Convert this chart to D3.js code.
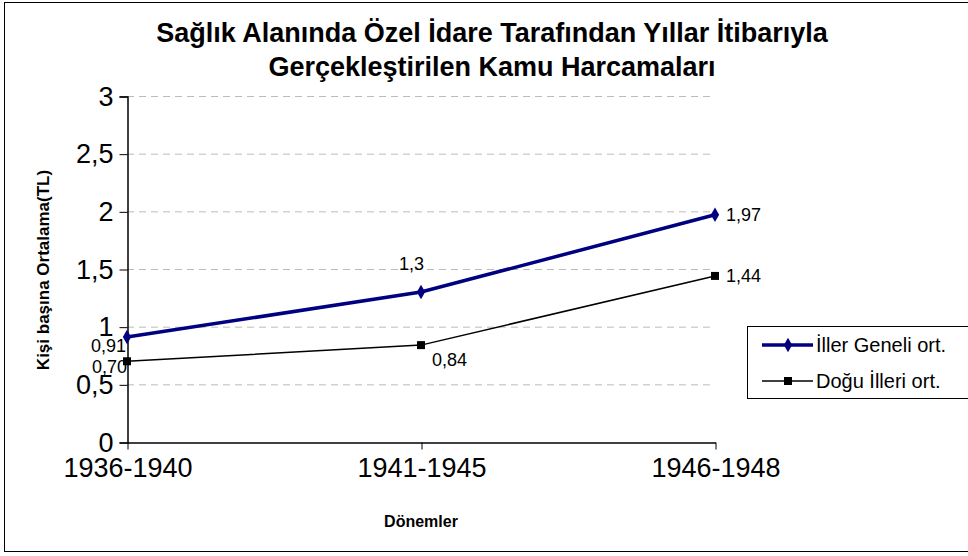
<!DOCTYPE html>
<html>
<head>
<meta charset="utf-8">
<script src="https://cdn.jsdelivr.net/npm/d3@7"></script>
<style>
  body { margin: 0; background: #fff; }
  svg { font-family: "Liberation Sans", Arial, sans-serif; }
</style>
</head>
<body>
<svg width="968" height="556"></svg>
<script>
// chart data
let periods = ['1936-1940', '1941-1945', '1946-1948'];
let illerGeneli = [0.91, 1.3, 1.97];
let doguIlleri = [0.70, 0.84, 1.44];
let illerLabels = ['0,91', '1,3', '1,97'];
let doguLabels = ['0,70', '0,84', '1,44'];
let yTicks = [0, 0.5, 1, 1.5, 2, 2.5, 3];
let seriesNames = ['İller Geneli ort.', 'Doğu İlleri ort.'];

let svg = d3.select('svg');
let fontFam = '"Liberation Sans", Arial, sans-serif';

// outer frame (runs off the right edge, as in the original)
svg.append('rect')
    .attr('x', 4.5).attr('y', 2.5)
    .attr('width', 980).attr('height', 549)
    .attr('fill', 'none').attr('stroke', '#000').attr('stroke-width', 1);

// title
let title = svg.append('text')
    .attr('text-anchor', 'middle')
    .attr('font-weight', 'bold')
    .attr('font-size', 27);
title.append('tspan').attr('x', 492).attr('y', 42).text('Sağlık Alanında Özel İdare Tarafından Yıllar İtibarıyla');
title.append('tspan').attr('x', 492).attr('y', 76).text('Gerçekleştirilen Kamu Harcamaları');

let x = d3.scalePoint().domain(periods).range([127, 715]);
let y = d3.scaleLinear().domain([0, 3]).range([442, 96]);

// gridlines
svg.append('g').selectAll('line')
    .data(yTicks.filter(d => d > 0))
    .join('line')
    .attr('x1', 127).attr('x2', 715)
    .attr('y1', d => y(d) + 0.5).attr('y2', d => y(d) + 0.5)
    .attr('stroke', '#bbb')
    .attr('stroke-dasharray', '7,5');

// y axis
let yAxis = svg.append('g')
    .attr('transform', 'translate(127.5,0.5)')
    .call(d3.axisLeft(y).tickValues(yTicks).tickSize(8).tickPadding(6)
        .tickFormat(d => String(d).replace('.', ',')));
yAxis.select('.domain').attr('stroke', '#000').attr('stroke-width', 1.5);
yAxis.selectAll('text').attr('font-size', 27).attr('font-family', fontFam).attr('fill', '#000');

// x axis
let xAxis = svg.append('g')
    .attr('transform', 'translate(0.5,442.5)')
    .call(d3.axisBottom(x).tickSize(7).tickPadding(8).tickSizeOuter(0));
xAxis.select('.domain').attr('stroke', '#000').attr('stroke-width', 1.5);
xAxis.selectAll('text').attr('font-size', 27).attr('font-family', fontFam).attr('fill', '#000');

// axis titles
svg.append('text')
    .attr('x', 421).attr('y', 527)
    .attr('text-anchor', 'middle')
    .attr('font-weight', 'bold').attr('font-size', 16)
    .text('Dönemler');
svg.append('text')
    .attr('transform', 'translate(49,270) rotate(-90)')
    .attr('text-anchor', 'middle')
    .attr('font-weight', 'bold').attr('font-size', 17)
    .text('Kişi başına Ortalama(TL)');

let line = d3.line().x((d, i) => x(periods[i])).y(d => y(d));

// Doğu illeri series
svg.append('path').datum(doguIlleri)
    .attr('d', line).attr('fill', 'none')
    .attr('stroke', '#000').attr('stroke-width', 1.5);
svg.append('g').selectAll('rect')
    .data(doguIlleri).join('rect')
    .attr('x', (d, i) => x(periods[i]) - 4).attr('y', d => y(d) - 4)
    .attr('width', 8).attr('height', 8).attr('fill', '#000');

// İller geneli series
svg.append('path').datum(illerGeneli)
    .attr('d', line).attr('fill', 'none')
    .attr('stroke', '#000080').attr('stroke-width', 3.5);
let diamond = d3.symbol().type(d3.symbolDiamond).size(60);
svg.append('g').selectAll('path')
    .data(illerGeneli).join('path')
    .attr('d', diamond)
    .attr('transform', (d, i) => `translate(${x(periods[i])},${y(d)})`)
    .attr('fill', '#000080');

// data labels
let labelFont = 18;
let illerOffsets = [[-36, 15], [-22, -22], [11, 6]];
let doguOffsets = [[-35, 12], [11, 21], [11, 6]];
svg.append('g').selectAll('text')
    .data(illerGeneli).join('text')
    .attr('x', (d, i) => x(periods[i]) + illerOffsets[i][0])
    .attr('y', (d, i) => y(d) + illerOffsets[i][1])
    .attr('font-size', labelFont)
    .text((d, i) => illerLabels[i]);
svg.append('g').selectAll('text')
    .data(doguIlleri).join('text')
    .attr('x', (d, i) => x(periods[i]) + doguOffsets[i][0])
    .attr('y', (d, i) => y(d) + doguOffsets[i][1])
    .attr('font-size', labelFont)
    .text((d, i) => doguLabels[i]);

// legend (box is cut by the right edge)
let legend = svg.append('g');
legend.append('rect')
    .attr('x', 747.5).attr('y', 326.5)
    .attr('width', 240).attr('height', 72)
    .attr('fill', '#fff').attr('stroke', '#000');
legend.append('line')
    .attr('x1', 762).attr('x2', 813).attr('y1', 345).attr('y2', 345)
    .attr('stroke', '#000080').attr('stroke-width', 3.5);
legend.append('path')
    .attr('d', diamond)
    .attr('transform', 'translate(788,345)')
    .attr('fill', '#000080');
legend.append('line')
    .attr('x1', 762).attr('x2', 813).attr('y1', 381).attr('y2', 381)
    .attr('stroke', '#000').attr('stroke-width', 1.5);
legend.append('rect')
    .attr('x', 784).attr('y', 377).attr('width', 8).attr('height', 8)
    .attr('fill', '#000');
legend.selectAll('text.lg')
    .data(seriesNames).join('text')
    .attr('class', 'lg')
    .attr('x', 816).attr('y', (d, i) => 352 + i * 36)
    .attr('font-size', 20)
    .text(d => d);
</script>
</body>
</html>
